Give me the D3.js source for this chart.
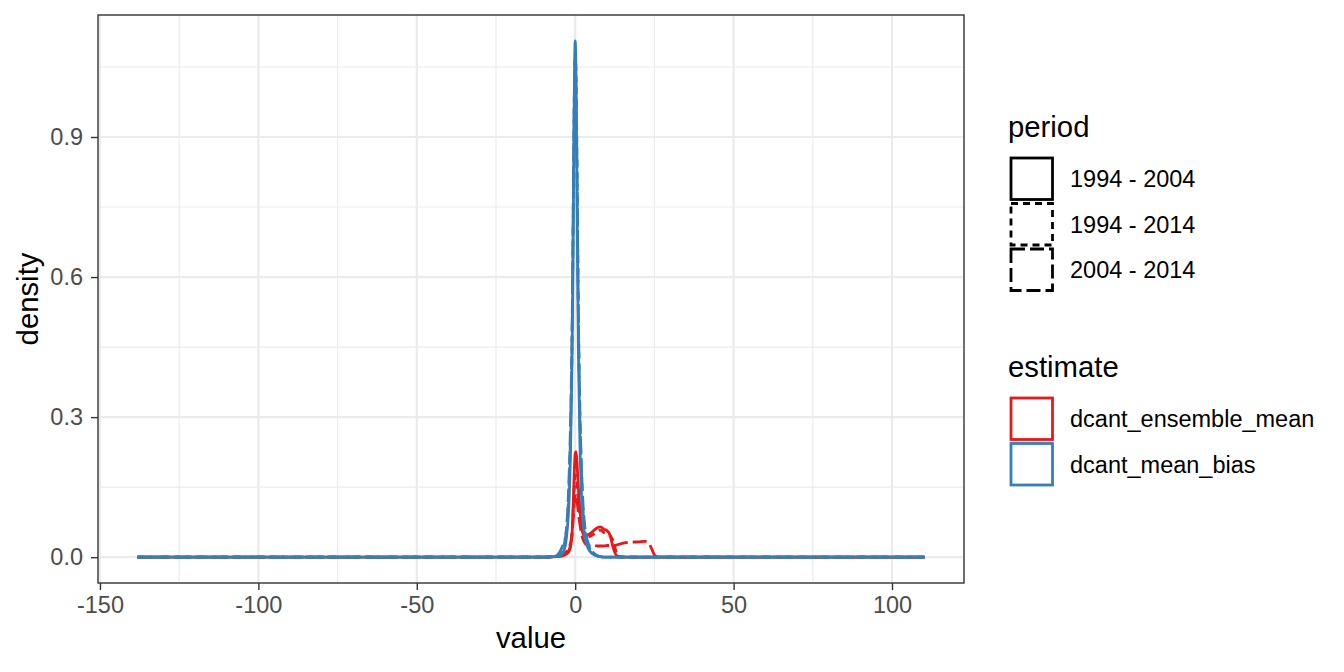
<!DOCTYPE html>
<html><head><meta charset="utf-8">
<script src="https://cdn.jsdelivr.net/npm/d3@7"></script>
<style>body{margin:0;background:#fff}svg{display:block}text{font-family:"Liberation Sans",Arial,Helvetica,sans-serif}</style>
</head><body><svg id="c" width="1344" height="672"></svg>
<script>
// ---- data ----
const periods = ["1994 - 2004", "1994 - 2014", "2004 - 2014"];
const estimates = ["dcant_ensemble_mean", "dcant_mean_bias"];
const xTicks = [-150, -100, -50, 0, 50, 100];
const yTicks = [0, 0.3, 0.6, 0.9];
const xGrid = [-138.2, -10, -6, -5, -4, -3.5, -3, -2.5, -2, -1.5, -1, -0.75, -0.5, -0.25, 0, 0.25, 0.5, 0.75, 1, 1.5, 2, 2.5, 3, 3.5, 4, 5, 6, 7, 8, 9, 10, 11, 12, 13, 14, 16, 18, 20, 22, 23, 24, 25, 26, 30, 110.3];
const ensemble_1994_2004 = [0, 0, 0.001, 0.002, 0.003, 0.004, 0.006, 0.008, 0.012, 0.022, 0.05, 0.09, 0.14, 0.19, 0.222, 0.226, 0.21, 0.18, 0.15, 0.1, 0.07, 0.055, 0.048, 0.047, 0.048, 0.052, 0.058, 0.063, 0.065, 0.06, 0.057, 0.047, 0.02, 0.004, 0.001, 0, 0, 0, 0, 0, 0, 0, 0, 0, 0];
const ensemble_1994_2014 = [0, 0, 0.001, 0.002, 0.004, 0.005, 0.007, 0.01, 0.015, 0.025, 0.05, 0.08, 0.12, 0.155, 0.175, 0.175, 0.16, 0.14, 0.12, 0.085, 0.062, 0.05, 0.044, 0.042, 0.043, 0.046, 0.05, 0.055, 0.058, 0.053, 0.05, 0.046, 0.035, 0.01, 0.002, 0, 0, 0, 0, 0, 0, 0, 0, 0, 0];
const ensemble_2004_2014 = [0, 0, 0.001, 0.003, 0.005, 0.007, 0.01, 0.014, 0.02, 0.03, 0.05, 0.07, 0.095, 0.12, 0.135, 0.135, 0.125, 0.11, 0.095, 0.07, 0.05, 0.038, 0.031, 0.027, 0.026, 0.025, 0.025, 0.024, 0.024, 0.024, 0.025, 0.025, 0.025, 0.026, 0.028, 0.031, 0.032, 0.033, 0.034, 0.032, 0.02, 0.005, 0.001, 0, 0];
const bias_1994_2004 = [0, 0, 0.001, 0.003, 0.008, 0.015, 0.03, 0.06, 0.11, 0.22, 0.42, 0.6, 0.82, 1.02, 1.106, 1.03, 0.85, 0.63, 0.45, 0.24, 0.13, 0.075, 0.045, 0.03, 0.02, 0.01, 0.005, 0.002, 0.001, 0, 0, 0, 0, 0, 0, 0, 0, 0, 0, 0, 0, 0, 0, 0, 0];
const bias_1994_2014 = [0, 0, 0.003, 0.007, 0.016, 0.026, 0.045, 0.08, 0.14, 0.26, 0.46, 0.63, 0.83, 1.0, 1.08, 1.04, 0.9, 0.7, 0.52, 0.3, 0.18, 0.1, 0.06, 0.04, 0.028, 0.014, 0.007, 0.003, 0.001, 0, 0, 0, 0, 0, 0, 0, 0, 0, 0, 0, 0, 0, 0, 0, 0];
const bias_2004_2014 = [0, 0, 0.003, 0.01, 0.024, 0.034, 0.045, 0.085, 0.16, 0.28, 0.48, 0.65, 0.84, 0.99, 1.06, 1.0, 0.87, 0.7, 0.53, 0.31, 0.19, 0.11, 0.068, 0.045, 0.032, 0.017, 0.008, 0.003, 0.001, 0, 0, 0, 0, 0, 0, 0, 0, 0, 0, 0, 0, 0, 0, 0, 0];

const series = [
  {est: 0, per: 0, y: ensemble_1994_2004},
  {est: 0, per: 1, y: ensemble_1994_2014},
  {est: 0, per: 2, y: ensemble_2004_2014},
  {est: 1, per: 0, y: bias_1994_2004},
  {est: 1, per: 1, y: bias_1994_2014},
  {est: 1, per: 2, y: bias_2004_2014}
];
const colors = ["#E41A1C", "#377EB8"];
const dashes = [null, "7,5", "14,5"];

// ---- layout ----
const svg = d3.select("#c");
const P = {l: 98, r: 964, t: 15, b: 583};
const xMin = -138.2, xMax = 110.3, yMax = 1.106;
const xPad = (xMax - xMin) * 0.05, yPad = yMax * 0.05;
const x = d3.scaleLinear().domain([xMin - xPad, xMax + xPad]).range([P.l, P.r]);
const y = d3.scaleLinear().domain([-yPad, yMax + yPad]).range([P.b, P.t]);

// grid
const g = svg.append("g");
const xMinor = [-125, -75, -25, 25, 75];
const yMinor = [0.15, 0.45, 0.75, 1.05];
xMinor.forEach(v => g.append("line").attr("x1", x(v)).attr("x2", x(v)).attr("y1", P.t).attr("y2", P.b).attr("stroke", "#EBEBEB").attr("stroke-width", 1.1));
yMinor.forEach(v => g.append("line").attr("y1", y(v)).attr("y2", y(v)).attr("x1", P.l).attr("x2", P.r).attr("stroke", "#EBEBEB").attr("stroke-width", 1.1));
xTicks.forEach(v => g.append("line").attr("x1", x(v)).attr("x2", x(v)).attr("y1", P.t).attr("y2", P.b).attr("stroke", "#EBEBEB").attr("stroke-width", 2.2));
yTicks.forEach(v => g.append("line").attr("y1", y(v)).attr("y2", y(v)).attr("x1", P.l).attr("x2", P.r).attr("stroke", "#EBEBEB").attr("stroke-width", 2.2));

// lines
const line = d3.line().x(d => x(d[0])).y(d => y(d[1])).curve(d3.curveMonotoneX);
const plot = svg.append("g");
series.forEach(s => {
  const pts = xGrid.map((v, i) => [v, s.y[i]]);
  plot.append("path").attr("d", line(pts)).attr("fill", "none")
    .attr("stroke", colors[s.est]).attr("stroke-width", 2.8)
    .attr("stroke-dasharray", dashes[s.per]).attr("stroke-linejoin", "round");
});

// border
svg.append("rect").attr("x", P.l).attr("y", P.t).attr("width", P.r - P.l).attr("height", P.b - P.t)
  .attr("fill", "none").attr("stroke", "#333333").attr("stroke-width", 1.4);

// axes
const xa = svg.append("g").attr("transform", `translate(0,${P.b})`)
  .call(d3.axisBottom(x).tickValues(xTicks).tickSize(7).tickPadding(6).tickFormat(d3.format("d")));
const ya = svg.append("g").attr("transform", `translate(${P.l},0)`)
  .call(d3.axisLeft(y).tickValues(yTicks).tickSize(7).tickPadding(8).tickFormat(d3.format(".1f")));
[xa, ya].forEach(a => {
  a.select(".domain").remove();
  a.selectAll(".tick line").attr("stroke", "#333333").attr("stroke-width", 1.4);
  a.selectAll(".tick text").attr("fill", "#4D4D4D").style("font-size", "23.5px");
});
xa.selectAll(".tick text").text(d => d < 0 ? "-" + Math.abs(d) : String(d));

svg.append("text").attr("x", (P.l + P.r) / 2).attr("y", 648).attr("text-anchor", "middle")
  .style("font-size", "29.3px").text("value");
svg.append("text").attr("transform", `translate(37.5,${(P.t + P.b) / 2}) rotate(-90)`).attr("text-anchor", "middle")
  .style("font-size", "29.3px").text("density");

// legends
const L = svg.append("g");
L.append("text").attr("x", 1008).attr("y", 137).style("font-size", "29.3px").text("period");
periods.forEach((p, i) => {
  const top = 158 + i * 45.5;
  L.append("rect").attr("x", 1011).attr("y", top).attr("width", 41.5).attr("height", 41.5)
    .attr("fill", "none").attr("stroke", "#000").attr("stroke-width", 2.8).attr("stroke-dasharray", dashes[i]);
  L.append("text").attr("x", 1070).attr("y", top + 29).style("font-size", "23.5px").text(p);
});
L.append("text").attr("x", 1008).attr("y", 377).style("font-size", "29.3px").text("estimate");
estimates.forEach((e, i) => {
  const top = 398 + i * 45.5;
  L.append("rect").attr("x", 1011).attr("y", top).attr("width", 41.5).attr("height", 41.5)
    .attr("fill", "none").attr("stroke", colors[i]).attr("stroke-width", 2.8);
  L.append("text").attr("x", 1070).attr("y", top + 29).style("font-size", "23.5px").text(e);
});
</script></body></html>
